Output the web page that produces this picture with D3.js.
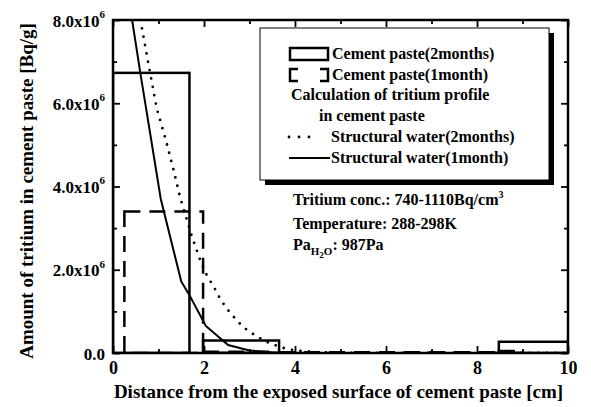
<!DOCTYPE html>
<html>
<head>
<meta charset="utf-8">
<script src="https://cdn.jsdelivr.net/npm/d3@7"></script>
<style>
  body { margin: 0; background: #fff; }
  svg { display: block; font-family: "Liberation Serif", "Times New Roman", serif; font-weight: bold; }
</style>
</head>
<body>
<div id="vis"></div>
<script>
const width = 591;
const height = 407;
const margin = { top: 20, right: 23, bottom: 54, left: 113 };

// measured tritium amount per slice [Bq/g]
const paste2Start = [0, 1.98, 8.48];
const paste2End = [1.68, 3.65, 10];
const paste2Value = [6.73e6, 0.30e6, 0.27e6];
const paste1Start = [0.25, 1.98, 3.65, 8.48];
const paste1End = [1.98, 3.65, 8.48, 9.0];
const paste1Value = [3.40e6, 0.03e6, 0.02e6, 0.05e6];

// calculated profiles
const struct2X = [0.52, 0.63, 0.79, 0.96, 1.16, 1.33, 1.47, 1.73, 1.93, 2.06, 2.22, 2.37, 2.57, 2.85, 3.14, 3.41, 3.71, 4.0, 4.5, 5.0, 6.0, 8.0, 10.0];
const struct2Y = [8.4e6, 7.84e6, 6.88e6, 5.88e6, 5.12e6, 4.40e6, 3.76e6, 2.81e6, 2.19e6, 1.87e6, 1.58e6, 1.27e6, 0.97e6, 0.63e6, 0.41e6, 0.25e6, 0.13e6, 0.06e6, 0.02e6, 0.005e6, 0, 0, 0];
const struct1X = [0.35, 0.42, 0.59, 1.05, 1.5, 1.68, 2.04, 2.53, 3.0, 3.5, 4.0, 6.0, 8.0, 10.0];
const struct1Y = [8.5e6, 8.0e6, 6.8e6, 3.7e6, 1.72e6, 1.39e6, 0.65e6, 0.19e6, 0.06e6, 0.01e6, 0, 0, 0, 0];

const xTicks = [0, 2, 4, 6, 8, 10];
const xMinorTicks = [1, 3, 5, 7, 9];
const yTicks = [0, 2e6, 4e6, 6e6, 8e6];
const yMinorTicks = [1e6, 3e6, 5e6, 7e6];
const yTickLabels = ["0.0", "2.0x10", "4.0x10", "6.0x10", "8.0x10"];

const legendLabels = ["Cement paste(2months)", "Cement paste(1month)", "Calculation of tritium profile", "in cement paste", "Structural water(2months)", "Structural water(1month)"];

const iw = width - margin.left - margin.right;
const ih = height - margin.top - margin.bottom;

const xScale = d3.scaleLinear().domain([0, 10]).range([0, iw]);
const yScale = d3.scaleLinear().domain([0, 8e6]).range([ih, 0]);

const svg = d3.select("#vis").append("svg")
  .attr("width", width)
  .attr("height", height);

const g = svg.append("g")
  .attr("transform", "translate(" + margin.left + "," + margin.top + ")");

g.append("clipPath").attr("id", "clip")
  .append("rect").attr("width", iw).attr("height", ih);

const plot = g.append("g").attr("clip-path", "url(#clip)");

// measured slices
paste2Value.forEach((v, i) => {
  plot.append("rect")
    .attr("x", xScale(paste2Start[i]))
    .attr("y", yScale(v))
    .attr("width", xScale(paste2End[i]) - xScale(paste2Start[i]))
    .attr("height", ih - yScale(v))
    .attr("fill", "none").attr("stroke", "#000").attr("stroke-width", 2.5);
});
paste1Value.forEach((v, i) => {
  plot.append("rect")
    .attr("x", xScale(paste1Start[i]))
    .attr("y", yScale(v))
    .attr("width", xScale(paste1End[i]) - xScale(paste1Start[i]))
    .attr("height", ih - yScale(v))
    .attr("fill", "none").attr("stroke", "#000").attr("stroke-width", 2.5)
    .attr("stroke-dasharray", "16,9");
});

const line = d3.line().x(d => xScale(d[0])).y(d => yScale(d[1]));

plot.append("path")
  .attr("d", line(struct2X.map((x, i) => [x, struct2Y[i]])))
  .attr("fill", "none").attr("stroke", "#000").attr("stroke-width", 2.8)
  .attr("stroke-linecap", "round").attr("stroke-dasharray", "0,8.5");

plot.append("path")
  .attr("d", line(struct1X.map((x, i) => [x, struct1Y[i]])))
  .attr("fill", "none").attr("stroke", "#000").attr("stroke-width", 2);

// axes, ticks pointing inward on all four sides
function addAxis(axis, tx, ty) {
  return g.append("g").attr("transform", "translate(" + tx + "," + ty + ")").call(axis)
    .call(s => s.select(".domain").remove())
    .call(s => s.selectAll("line").attr("stroke-width", 1.8));
}
const xAx = addAxis(d3.axisBottom(xScale).tickValues(xTicks).tickSize(-7).tickPadding(8).tickFormat(d3.format("d")), 0, ih);
addAxis(d3.axisBottom(xScale).tickValues(xMinorTicks).tickSize(-4).tickFormat(""), 0, ih);
addAxis(d3.axisTop(xScale).tickValues(xTicks).tickSize(-7).tickFormat(""), 0, 0);
addAxis(d3.axisTop(xScale).tickValues(xMinorTicks).tickSize(-4).tickFormat(""), 0, 0);
const yAx = addAxis(d3.axisLeft(yScale).tickValues(yTicks).tickSize(-7).tickPadding(8), 0, 0);
addAxis(d3.axisLeft(yScale).tickValues(yMinorTicks).tickSize(-4).tickFormat(""), 0, 0);
addAxis(d3.axisRight(yScale).tickValues(yTicks).tickSize(-7).tickFormat(""), iw, 0);
addAxis(d3.axisRight(yScale).tickValues(yMinorTicks).tickSize(-4).tickFormat(""), iw, 0);

xAx.selectAll("text").attr("font-family", "Liberation Serif").attr("font-weight", "bold")
  .attr("font-size", 18).attr("fill", "#000").attr("dy", "0.72em");

yAx.selectAll("text").attr("font-family", "Liberation Serif").attr("font-weight", "bold")
  .attr("font-size", 17).attr("fill", "#000").attr("dy", "0.36em")
  .each(function(d, i) {
    const t = d3.select(this).text(null);
    t.append("tspan").text(yTickLabels[i]);
    if (d !== 0) t.append("tspan").attr("font-size", 11).attr("dy", "-0.8em").text("6");
  });

g.append("rect").attr("width", iw).attr("height", ih)
  .attr("fill", "none").attr("stroke", "#000").attr("stroke-width", 2.5);

// axis titles
svg.append("text")
  .attr("x", margin.left + iw / 2 - 2).attr("y", 398)
  .attr("text-anchor", "middle").attr("font-size", 19)
  .text("Distance from the exposed surface of cement paste [cm]");

svg.append("text")
  .attr("transform", "translate(33,191) rotate(-90)")
  .attr("text-anchor", "middle").attr("font-size", 19)
  .text("Amount of tritium in cement paste [Bq/g]");

// legend
const lg = svg.append("g").attr("transform", "translate(260,28)");
lg.append("rect").attr("x", 5).attr("y", 5).attr("width", 289).attr("height", 152).attr("fill", "#000");
lg.append("rect").attr("width", 289).attr("height", 152).attr("fill", "#fff").attr("stroke", "#000").attr("stroke-width", 1);

lg.append("rect").attr("x", 30).attr("y", 20).attr("width", 38).attr("height", 12)
  .attr("fill", "none").attr("stroke", "#000").attr("stroke-width", 2.5);
lg.append("path").attr("d", "M38,41H30V53H38M60,41H68V53H60")
  .attr("fill", "none").attr("stroke", "#000").attr("stroke-width", 2.5);
lg.append("line").attr("x1", 29).attr("x2", 52).attr("y1", 109).attr("y2", 109)
  .attr("stroke", "#000").attr("stroke-width", 2.8).attr("stroke-linecap", "round").attr("stroke-dasharray", "0,10");
lg.append("line").attr("x1", 29).attr("x2", 70).attr("y1", 130).attr("y2", 130)
  .attr("stroke", "#000").attr("stroke-width", 2);

const legendPos = [[72, 31], [72, 52], [31, 72], [59, 93], [71, 114], [71, 135]];
legendLabels.forEach((t, i) => {
  lg.append("text").attr("x", legendPos[i][0]).attr("y", legendPos[i][1])
    .attr("font-size", 16).text(t);
});

// experiment conditions
const ann = svg.append("g").attr("font-size", 16);
const a1 = ann.append("text").attr("x", 293).attr("y", 205);
a1.append("tspan").text("Tritium conc.: 740-1110Bq/cm");
a1.append("tspan").attr("font-size", 10).attr("dy", -7).text("3");
ann.append("text").attr("x", 293).attr("y", 229).text("Temperature: 288-298K");
const a3 = ann.append("text").attr("x", 293).attr("y", 250);
a3.append("tspan").text("Pa");
a3.append("tspan").attr("font-size", 11).attr("dy", 5).text("H");
a3.append("tspan").attr("font-size", 9).attr("dy", 3).text("2");
a3.append("tspan").attr("font-size", 11).attr("dy", -3).text("O");
a3.append("tspan").attr("dy", -5).text(": 987Pa");
</script>
</body>
</html>
